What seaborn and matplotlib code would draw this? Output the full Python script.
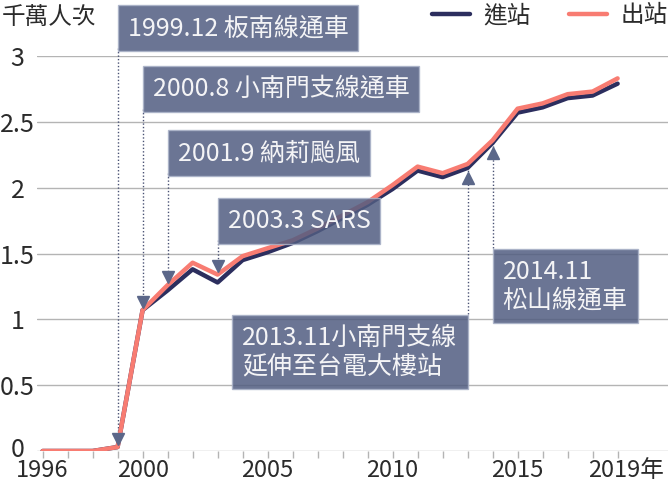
import matplotlib
matplotlib.use("Agg")
import numpy as np
import pandas as pd
import matplotlib.pyplot as plt
import matplotlib.transforms as mtransforms
from matplotlib.lines import Line2D
import seaborn as sns

# 台北捷運 年運量（千萬人次）
years = list(range(1996, 2020))
entries = [0, 0, 0, 0.03, 1.07, 1.22, 1.38, 1.28, 1.45, 1.51, 1.58, 1.67,
           1.77, 1.87, 1.99, 2.13, 2.08, 2.15, 2.34, 2.57, 2.61, 2.68, 2.70, 2.79]
exits = [0, 0, 0, 0.03, 1.07, 1.26, 1.43, 1.34, 1.48, 1.54, 1.60, 1.69,
         1.79, 1.89, 2.02, 2.16, 2.11, 2.18, 2.36, 2.60, 2.64, 2.71, 2.73, 2.83]

event_labels = ["1999.12 板南線通車", "2000.8 小南門支線通車", "2001.9 納莉颱風",
                "2003.3 SARS", "2013.11小南門支線\n延伸至台電大樓站", "2014.11\n松山線通車"]
event_years = [1999, 2000, 2001, 2003, 2013, 2014]
event_up = [False, False, False, False, True, True]
box_y = [3.21, 2.75, 2.26, 1.75, 0.75, 1.25]
box_edge = [3.06, 2.60, 2.11, 1.60, 1.04, 1.54]

xtick_years = [1996, 2000, 2005, 2010, 2015, 2019]
xtick_labels = ["1996", "2000", "2005", "2010", "2015", "2019年"]
yticks = [0, 0.5, 1, 1.5, 2, 2.5, 3]
ytick_labels = ["0", "0.5", "1", "1.5", "2", "2.5", "3"]

navy = "#2c2e5e"
salmon = "#f87c72"
box_col = "#515d81"
tri_col = "#5b6789"
grid_col = "#b4b4b4"
txt_col = "#2b2b2b"

df = pd.DataFrame({
    "year": years * 2,
    "value": entries + exits,
    "type": ["進站"] * len(years) + ["出站"] * len(years),
})

sns.set_theme(style="white")
plt.rcParams["font.family"] = ["Noto Sans CJK TC", "DejaVu Sans"]

fig = plt.figure(figsize=(6.68, 4.87), dpi=100)
ax = fig.add_axes([37 / 668, 1 - 451 / 487, 1 - 37 / 668, (451 - 56) / 487])

sns.lineplot(data=df, x="year", y="value", hue="type", hue_order=["進站", "出站"],
             palette={"進站": navy, "出站": salmon}, linewidth=3.2, legend=False,
             ax=ax, zorder=3)

ax.set_xlim(1996 - 5.6 / 25, 1996 + (668 - 42.6) / 25)
ax.set_ylim(0, 3)
for s in ax.spines.values():
    s.set_visible(False)
ax.set_yticks(yticks)
ax.set_yticklabels(ytick_labels)
ax.yaxis.grid(True, color=grid_col, linewidth=1)
ax.xaxis.grid(False)
ax.set_xticks(xtick_years)
ax.set_xticklabels(xtick_labels)
ax.set_xticks(years, minor=True)
ax.tick_params(axis="x", which="both", length=5, width=1, color=grid_col,
               bottom=True, pad=1, labelsize=17, labelcolor=txt_col)
ax.tick_params(axis="y", length=0, pad=14, labelsize=18, labelcolor=txt_col)
for lab in ax.get_yticklabels():
    lab.set_horizontalalignment("center")
zero = ax.get_yticklabels()[0]
zero.set_transform(zero.get_transform() + mtransforms.ScaledTranslation(0, 3 / 72, fig.dpi_scale_trans))
ax.set_xlabel("")
ax.set_ylabel("")
last = ax.get_xticklabels()[-1]
last.set_transform(last.get_transform() + mtransforms.ScaledTranslation(6 / 72, 0, fig.dpi_scale_trans))

# event annotations
fs = 18
pad = 0.4
for lab, yr, up, by, edge in zip(event_labels, event_years, event_up, box_y, box_edge):
    i = years.index(yr)
    if up:
        target = entries[i]
        off = mtransforms.offset_copy(ax.transData, fig=fig, x=0, y=-7, units="points")
        marker = "^"
    else:
        target = exits[i]
        off = mtransforms.offset_copy(ax.transData, fig=fig, x=0, y=6, units="points")
        marker = "v"
    ax.plot([yr, yr], [edge, target], color="#4a5274", linestyle=(0, (1, 1.5)),
            linewidth=1, zorder=2, clip_on=False)
    ax.plot([yr], [target], marker=marker, markersize=9, color=tri_col,
            transform=off, zorder=4, clip_on=False)
    dx = pad * fs if not up or yr == 2014 else -pad * fs
    ax.annotate(lab, xy=(yr, by), xytext=(dx, 0), textcoords="offset points",
                ha="left" if dx > 0 else "right", va="center", multialignment="left",
                fontsize=fs, color="#f4f4f6", linespacing=1.1, zorder=5,
                annotation_clip=False,
                bbox=dict(boxstyle=f"square,pad={pad}", fc=box_col, ec="#aab2c8",
                          lw=1, alpha=0.85))

fig.text(2 / 668, 1 - 17 / 487, "千萬人次", fontsize=17, color=txt_col, va="center", ha="left")

handles = [Line2D([], [], color=navy, linewidth=3.2),
           Line2D([], [], color=salmon, linewidth=3.2)]
fig.legend(handles, ["進站", "出站"], loc="center right", bbox_to_anchor=(1.0, 1 - 16 / 487),
           ncol=2, frameon=False, fontsize=17, handlelength=1.6, handletextpad=0.6,
           columnspacing=1.6, borderaxespad=0, borderpad=0, labelcolor=txt_col)

fig.savefig("out.png", dpi=100)
